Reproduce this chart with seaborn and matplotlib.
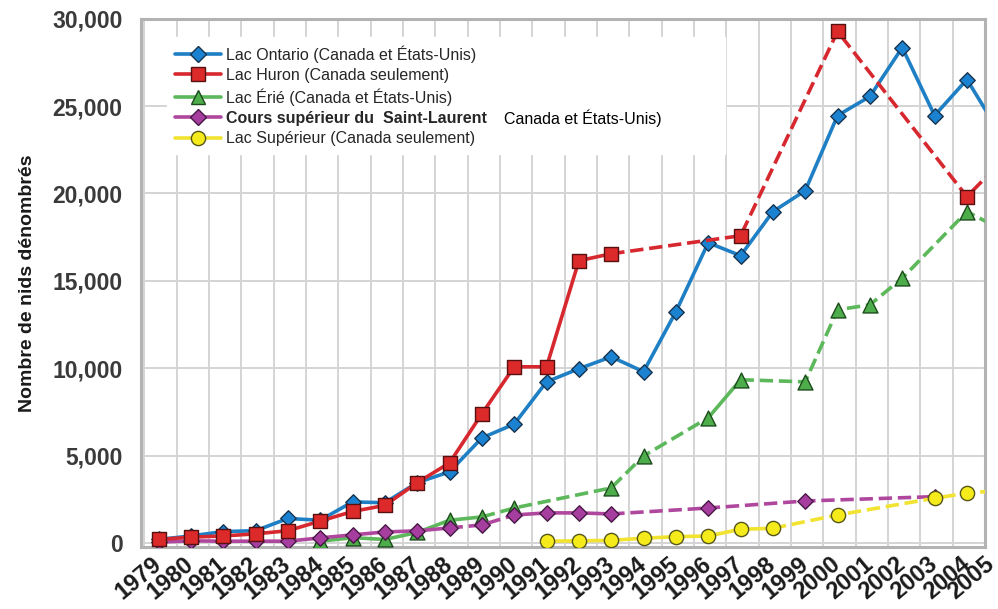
import matplotlib
matplotlib.use("Agg")
import matplotlib.pyplot as plt
from matplotlib.lines import Line2D
from matplotlib.ticker import FuncFormatter, FixedLocator
import pandas as pd
import seaborn as sns

# ---- data: number of nests counted per year ----
years_ontario = list(range(1979, 2006))
nests_ontario = [200, 400, 650, 700, 1400, 1300, 2350, 2300, 3450, 4070,
                 6010, 6800, 9220, 9970, 10650, 9800, 13230, 17180, 16440,
                 18960, 20160, 24460, 25550, 28350, 24460, 26520, 23500]

years_huron = list(range(1979, 1994)) + [1997, 2000, 2004, 2005]
nests_huron = [200, 330, 400, 520, 700, 1250, 1800, 2150, 3450, 4580,
               7390, 10080, 10080, 16150, 16550, 17580, 29270, 19820, 21700]

years_erie = list(range(1984, 1991)) + [1993, 1994, 1996, 1997, 1999, 2000,
                                        2001, 2002, 2004, 2005]
nests_erie = [100, 300, 200, 600, 1300, 1490, 2000, 3150, 4980, 7160, 9340,
              9220, 13340, 13630, 15150, 18960, 18000]

years_stlaurent = list(range(1979, 1994)) + [1996, 1999, 2003]
nests_stlaurent = [50, 120, 100, 100, 100, 290, 460, 630, 690, 860, 1030,
                   1600, 1720, 1720, 1660, 2000, 2400, 2650]

years_superieur = list(range(1991, 1999)) + [2000, 2003, 2004, 2005]
nests_superieur = [100, 120, 150, 270, 360, 400, 780, 840, 1600, 2560, 2850,
                   3000]

# years whose following segment is drawn dashed (gaps / estimated stretches)
dashed_ontario = []
dashed_huron = [1993, 1997, 2000, 2004]
dashed_erie = [1989, 1990, 1993, 1994, 1997, 1999, 2000, 2001, 2002, 2004]
dashed_stlaurent = [1988, 1989, 1993, 1996, 1999]
dashed_superieur = [1998, 2000, 2003, 2004]

labels = [
    "Lac Ontario (Canada et États-Unis)",
    "Lac Huron (Canada seulement)",
    "Lac Érié (Canada et États-Unis)",
    "Cours supérieur du  Saint-Laurent",
    "Lac Supérieur (Canada seulement)",
]
label_tail = "Canada et États-Unis)"
year_ticks = list(range(1979, 2006))
y_ticks = [0, 5000, 10000, 15000, 20000, 25000, 30000]

# ---- figure ----
sns.set_theme(style="white")
plt.rcParams["font.family"] = ["Liberation Sans", "DejaVu Sans"]

fig = plt.figure(figsize=(9.98, 6.09), dpi=100)
ax = fig.add_axes([0.141, 0.101, 0.846, 0.8683])

series = [
    (years_ontario, nests_ontario, dashed_ontario, "#1f7fc4", "D", 62, "#1b82d2", "#17344f", 3),
    (years_erie, nests_erie, dashed_erie, "#5cb85a", "^", 115, "#4cad4a", "#1d4a1d", 4),
    (years_stlaurent, nests_stlaurent, dashed_stlaurent, "#b0479f", "D", 62, "#a63ea0", "#471944", 5),
    (years_huron, nests_huron, dashed_huron, "#d6282e", "s", 110, "#dc2a2a", "#561010", 6),
    (years_superieur, nests_superieur, dashed_superieur, "#f1e330", "o", 105, "#f5ea1a", "#56561a", 7),
]

for yrs, vals, dashed, lcol, mk, ms, fcol, ecol, z in series:
    df = pd.DataFrame({"annee": yrs, "nids": vals})
    runs = []
    for i in range(len(yrs) - 1):
        st = "--" if yrs[i] in dashed else "-"
        if runs and runs[-1][0] == st:
            runs[-1][2] = i + 1
        else:
            runs.append([st, i, i + 1])
    for st, a, b in runs:
        sns.lineplot(data=df.iloc[a:b + 1], x="annee", y="nids", color=lcol,
                     linestyle=st, linewidth=2.6, estimator=None, sort=False,
                     legend=False, ax=ax, zorder=z)
    sns.scatterplot(data=df, x="annee", y="nids", marker=mk, s=ms, color=fcol,
                    edgecolor=ecol, linewidth=1.0, legend=False, ax=ax,
                    zorder=z + 0.5)

# ---- axes, grid, frame ----
ax.set_xlim(1978.45, 2004.56)
ax.set_ylim(-260, 30000)
ax.xaxis.set_major_locator(FixedLocator(year_ticks))
ax.set_xticklabels([str(y) for y in year_ticks])
ax.xaxis.set_minor_locator(FixedLocator([y + 0.56 for y in range(1978, 2005)]))
ax.yaxis.set_major_locator(FixedLocator(y_ticks))
ax.yaxis.set_major_formatter(FuncFormatter(lambda v, p: f"{v:,.0f}"))
ax.grid(False)
ax.grid(which="minor", axis="x", color="#d4d4d4", linewidth=1.4, zorder=0)
ax.grid(which="major", axis="y", color="#d4d4d4", linewidth=1.4, zorder=0)
ax.set_axisbelow(True)
ax.tick_params(axis="both", which="both", length=0)
ax.tick_params(axis="y", labelsize=16.5, labelcolor="#3a3a3a", pad=13)
for t in ax.get_yticklabels():
    t.set_fontweight("bold")

xlab_style = dict(fontsize=17, fontweight="bold", color="#1a1a1a",
                  rotation=40, ha="right", va="center",
                  rotation_mode="anchor")
ax.tick_params(axis="x", labelsize=17, labelcolor="#1a1a1a", pad=10)
for t in ax.get_xticklabels():
    t.set_fontweight("bold")
    t.set_rotation(40)
    t.set_ha("right")
    t.set_va("center")
    t.set_rotation_mode("anchor")
# the last year sits just past the right edge of the frame; label it anyway,
# nudged left so it stays inside the figure
ax.annotate(str(year_ticks[-1]), xy=(year_ticks[-1], 0),
            xycoords=("data", "axes fraction"), xytext=(-6, -10),
            textcoords="offset points", annotation_clip=False, **xlab_style)

for sp in ax.spines.values():
    sp.set_color("#b3b3b3")
    sp.set_linewidth(2.2)

ax.set_xlabel("")
ax.set_ylabel("Nombre de nids dénombrés", fontsize=14, fontweight="bold",
              color="#1a1a1a", labelpad=12)

# ---- legend ----
handles = []
for (yrs, vals, dashed, lcol, mk, ms, fcol, ecol, z) in [series[0], series[3], series[1], series[2], series[4]]:
    handles.append(Line2D([], [], color=lcol, linewidth=2.6, marker=mk,
                          markersize=(ms ** 0.5), markerfacecolor=fcol,
                          markeredgecolor=ecol, markeredgewidth=1.0))
leg = ax.legend(handles, labels, loc="upper left",
                bbox_to_anchor=(0.031, 0.965, 0.661, 0.0), mode="expand",
                borderaxespad=0, frameon=True, fancybox=False,
                facecolor="white", edgecolor="white", framealpha=1,
                fontsize=11.5, handlelength=2.9, handletextpad=0.3,
                labelspacing=0.33, borderpad=0.5)
leg.set_zorder(9)
leg_texts = leg.get_texts()
leg_texts[3].set_fontweight("bold")
ax.annotate(label_tail, xy=(1, 0.5), xycoords=leg_texts[3], xytext=(12, 0),
            textcoords="offset points", va="center", ha="left",
            fontsize=11.5, color="black", zorder=10, annotation_clip=False)

fig.savefig("out.png", dpi=100)
